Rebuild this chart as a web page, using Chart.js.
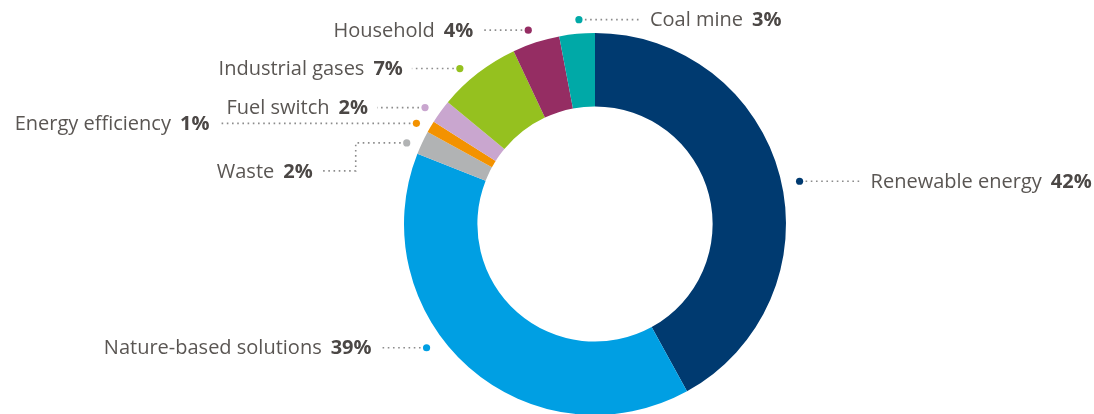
<!DOCTYPE html>
<html>
<head>
<meta charset="utf-8">
<script src="https://cdn.jsdelivr.net/npm/chart.js@4.4.1/dist/chart.umd.min.js"></script>
<style>
  html, body { margin: 0; padding: 0; background: #fff; }
  #wrap { width: 1094px; height: 414px; }
</style>
</head>
<body>
<div id="wrap"><canvas id="myChart" width="1094" height="414"></canvas></div>
<script>
// data
const categories = ['Renewable energy', 'Nature-based solutions', 'Waste', 'Energy efficiency',
                    'Fuel switch', 'Industrial gases', 'Household', 'Coal mine'];
const shares = [42, 39, 2, 1, 2, 7, 4, 3];
const colours = ['#003a70', '#009fe3', '#b1b3b4', '#f39200', '#c9a6cf', '#95c11f', '#952d63', '#00a9a7'];

// where each callout sits: angle nudge (deg), gap past the ring, side, leader length, optional elbow
const callouts = [
  { shift: 2.6,  gap: 18, side: 'right', len: 56 },
  { shift: 12.3, gap: 18, side: 'left',  len: 40 },
  { shift: -1.9, gap: 14, side: 'left',  len: 45, drop: 28, len2: 34 },
  { shift: -1.2, gap: 14, side: 'left',  len: 192 },
  { shift: -1.6, gap: 15, side: 'left',  len: 42 },
  { shift: -3.2, gap: 15, side: 'left',  len: 42 },
  { shift: -1.0, gap: 14, side: 'left',  len: 40 },
  { shift: 0.9,  gap: 14, side: 'right', len: 56 }
];

const calloutPlugin = {
  id: 'callouts',
  afterDraw(chart) {
    const ctx = chart.ctx;
    const arcs = chart.getDatasetMeta(0).data;
    const values = chart.data.datasets[0].data;
    const nameFont = '20px "Open Sans"';
    const valFont = 'bold 20px "Open Sans"';
    ctx.save();
    arcs.forEach((arc, i) => {
      const c = callouts[i];
      const p = arc.getProps(['x', 'y', 'startAngle', 'endAngle', 'outerRadius'], true);
      const a = (p.startAngle + p.endAngle) / 2 + c.shift * Math.PI / 180;
      const r = p.outerRadius + c.gap;
      const dx = p.x + r * Math.cos(a);
      const dy = p.y + r * Math.sin(a);
      const dir = c.side === 'right' ? 1 : -1;

      // dot
      ctx.fillStyle = colours[i];
      ctx.beginPath();
      ctx.arc(dx, dy, 3.6, 0, Math.PI * 2);
      ctx.fill();

      // dotted leader
      ctx.strokeStyle = '#8c8c8c';
      ctx.lineWidth = 1.6;
      ctx.setLineDash([1.6, 3.6]);
      ctx.beginPath();
      let x = dx + dir * 6, y = dy;
      ctx.moveTo(x, y);
      x += dir * c.len;
      ctx.lineTo(x, y);
      if (c.drop) {
        y += c.drop;
        ctx.lineTo(x, y);
        x += dir * c.len2;
        ctx.lineTo(x, y);
      }
      ctx.stroke();
      ctx.setLineDash([]);

      // text
      const name = categories[i];
      const val = values[i] + '%';
      const tx = x + dir * 9;
      const ty = y + 1;
      ctx.textBaseline = 'middle';
      ctx.font = valFont;
      const vw = ctx.measureText(val).width;
      ctx.font = nameFont;
      const nw = ctx.measureText(name).width;
      const gap = 9;
      let nx = dir > 0 ? tx : tx - vw - gap - nw;
      ctx.textAlign = 'left';
      ctx.fillStyle = '#5a5653';
      ctx.font = nameFont;
      ctx.fillText(name, nx, ty);
      ctx.fillStyle = '#4b4745';
      ctx.font = valFont;
      ctx.fillText(val, nx + nw + gap, ty);
    });
    ctx.restore();
  }
};

let myChart = document.getElementById('myChart').getContext('2d');

let donut = new Chart(myChart, {
  type: 'doughnut',
  data: {
    labels: categories,
    datasets: [{
      data: shares,
      backgroundColor: colours,
      borderWidth: 0,
      radius: 191,
      cutout: 117
    }]
  },
  options: {
    responsive: false,
    animation: false,
    layout: { padding: { left: 96, right: 0, top: 34, bottom: 0 } },
    plugins: {
      legend: { display: false },
      tooltip: { enabled: false }
    }
  },
  plugins: [calloutPlugin]
});
</script>
</body>
</html>
